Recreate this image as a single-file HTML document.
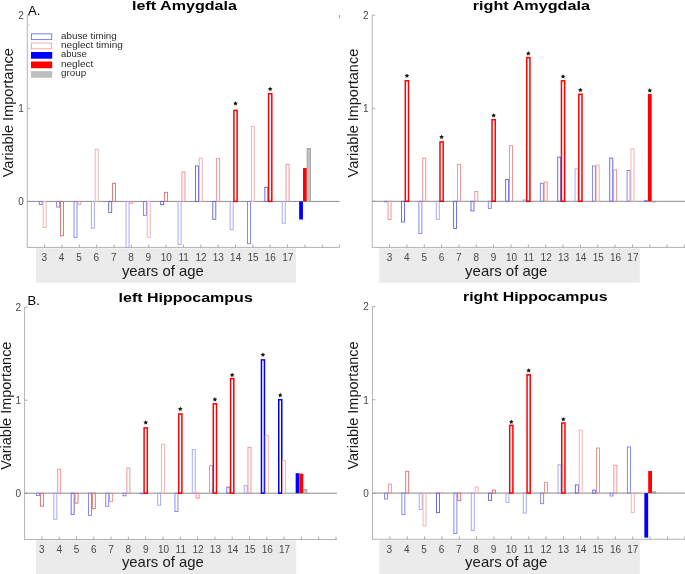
<!DOCTYPE html>
<html><head><meta charset="utf-8"><style>
html,body{margin:0;padding:0;background:#fff;}
body{width:685px;height:574px;overflow:hidden;}
svg{display:block;will-change:transform;font-family:"Liberation Sans",sans-serif;}
.tl{font-size:10.0px;fill:#474747;}
.ti{font-size:13px;font-weight:bold;fill:#000;}
.xl{font-size:14.4px;fill:#1a1a1a;}
.yl{font-size:14.3px;fill:#1a1a1a;}
.lg{font-size:9.4px;fill:#2a2a2a;}
.pl{font-size:13px;fill:#000;}
.star{font-size:10px;fill:#111;text-anchor:middle;}
</style></head><body>
<svg width="685" height="574" viewBox="0 0 685 574">
<rect width="685" height="574" fill="#fff"/>
<rect x="35.9" y="248.3" width="260.20" height="34.40" fill="#ebebeb"/>
<text x="44.30" y="260.80" class="tl" text-anchor="middle">3</text>
<text x="61.65" y="260.80" class="tl" text-anchor="middle">4</text>
<text x="79.00" y="260.80" class="tl" text-anchor="middle">5</text>
<text x="96.35" y="260.80" class="tl" text-anchor="middle">6</text>
<text x="113.70" y="260.80" class="tl" text-anchor="middle">7</text>
<text x="131.05" y="260.80" class="tl" text-anchor="middle">8</text>
<text x="148.40" y="260.80" class="tl" text-anchor="middle">9</text>
<text x="166.25" y="260.80" class="tl" text-anchor="middle">10</text>
<text x="183.60" y="260.80" class="tl" text-anchor="middle">11</text>
<text x="200.95" y="260.80" class="tl" text-anchor="middle">12</text>
<text x="218.30" y="260.80" class="tl" text-anchor="middle">13</text>
<text x="235.65" y="260.80" class="tl" text-anchor="middle">14</text>
<text x="253.00" y="260.80" class="tl" text-anchor="middle">15</text>
<text x="270.35" y="260.80" class="tl" text-anchor="middle">16</text>
<text x="287.70" y="260.80" class="tl" text-anchor="middle">17</text>
<text x="121.90" y="275.8" class="xl" textLength="81.90" lengthAdjust="spacingAndGlyphs">years of age</text>
<rect x="379.3" y="248.3" width="260.50" height="34.40" fill="#ebebeb"/>
<text x="389.50" y="260.80" class="tl" text-anchor="middle">3</text>
<text x="406.85" y="260.80" class="tl" text-anchor="middle">4</text>
<text x="424.20" y="260.80" class="tl" text-anchor="middle">5</text>
<text x="441.55" y="260.80" class="tl" text-anchor="middle">6</text>
<text x="458.90" y="260.80" class="tl" text-anchor="middle">7</text>
<text x="476.25" y="260.80" class="tl" text-anchor="middle">8</text>
<text x="493.60" y="260.80" class="tl" text-anchor="middle">9</text>
<text x="511.45" y="260.80" class="tl" text-anchor="middle">10</text>
<text x="528.80" y="260.80" class="tl" text-anchor="middle">11</text>
<text x="546.15" y="260.80" class="tl" text-anchor="middle">12</text>
<text x="563.50" y="260.80" class="tl" text-anchor="middle">13</text>
<text x="580.85" y="260.80" class="tl" text-anchor="middle">14</text>
<text x="598.20" y="260.80" class="tl" text-anchor="middle">15</text>
<text x="615.55" y="260.80" class="tl" text-anchor="middle">16</text>
<text x="632.90" y="260.80" class="tl" text-anchor="middle">17</text>
<text x="465.10" y="275.8" class="xl" textLength="82.30" lengthAdjust="spacingAndGlyphs">years of age</text>
<rect x="35.9" y="540.3" width="260.30" height="33.70" fill="#ebebeb"/>
<text x="41.90" y="552.80" class="tl" text-anchor="middle">3</text>
<text x="59.20" y="552.80" class="tl" text-anchor="middle">4</text>
<text x="76.50" y="552.80" class="tl" text-anchor="middle">5</text>
<text x="93.80" y="552.80" class="tl" text-anchor="middle">6</text>
<text x="111.10" y="552.80" class="tl" text-anchor="middle">7</text>
<text x="128.40" y="552.80" class="tl" text-anchor="middle">8</text>
<text x="145.70" y="552.80" class="tl" text-anchor="middle">9</text>
<text x="163.50" y="552.80" class="tl" text-anchor="middle">10</text>
<text x="180.80" y="552.80" class="tl" text-anchor="middle">11</text>
<text x="198.10" y="552.80" class="tl" text-anchor="middle">12</text>
<text x="215.40" y="552.80" class="tl" text-anchor="middle">13</text>
<text x="232.70" y="552.80" class="tl" text-anchor="middle">14</text>
<text x="250.00" y="552.80" class="tl" text-anchor="middle">15</text>
<text x="267.30" y="552.80" class="tl" text-anchor="middle">16</text>
<text x="284.60" y="552.80" class="tl" text-anchor="middle">17</text>
<text x="121.90" y="566.6" class="xl" textLength="81.90" lengthAdjust="spacingAndGlyphs">years of age</text>
<rect x="379.3" y="540.3" width="260.50" height="33.70" fill="#ebebeb"/>
<text x="389.40" y="552.80" class="tl" text-anchor="middle">3</text>
<text x="406.75" y="552.80" class="tl" text-anchor="middle">4</text>
<text x="424.10" y="552.80" class="tl" text-anchor="middle">5</text>
<text x="441.45" y="552.80" class="tl" text-anchor="middle">6</text>
<text x="458.80" y="552.80" class="tl" text-anchor="middle">7</text>
<text x="476.15" y="552.80" class="tl" text-anchor="middle">8</text>
<text x="493.50" y="552.80" class="tl" text-anchor="middle">9</text>
<text x="511.35" y="552.80" class="tl" text-anchor="middle">10</text>
<text x="528.70" y="552.80" class="tl" text-anchor="middle">11</text>
<text x="546.05" y="552.80" class="tl" text-anchor="middle">12</text>
<text x="563.40" y="552.80" class="tl" text-anchor="middle">13</text>
<text x="580.75" y="552.80" class="tl" text-anchor="middle">14</text>
<text x="598.10" y="552.80" class="tl" text-anchor="middle">15</text>
<text x="615.45" y="552.80" class="tl" text-anchor="middle">16</text>
<text x="632.80" y="552.80" class="tl" text-anchor="middle">17</text>
<text x="465.10" y="566.6" class="xl" textLength="82.30" lengthAdjust="spacingAndGlyphs">years of age</text>
<line x1="27.3" y1="15.3" x2="27.3" y2="247.4" stroke="#b4b4b4" stroke-width="1"/>
<line x1="26.8" y1="247.4" x2="339.5" y2="247.4" stroke="#b4b4b4" stroke-width="1"/>
<line x1="44.65" y1="247.4" x2="44.65" y2="244.4" stroke="#9a9a9a" stroke-width="0.8"/>
<line x1="62.00" y1="247.4" x2="62.00" y2="244.4" stroke="#9a9a9a" stroke-width="0.8"/>
<line x1="79.35" y1="247.4" x2="79.35" y2="244.4" stroke="#9a9a9a" stroke-width="0.8"/>
<line x1="96.70" y1="247.4" x2="96.70" y2="244.4" stroke="#9a9a9a" stroke-width="0.8"/>
<line x1="114.05" y1="247.4" x2="114.05" y2="244.4" stroke="#9a9a9a" stroke-width="0.8"/>
<line x1="131.40" y1="247.4" x2="131.40" y2="244.4" stroke="#9a9a9a" stroke-width="0.8"/>
<line x1="148.75" y1="247.4" x2="148.75" y2="244.4" stroke="#9a9a9a" stroke-width="0.8"/>
<line x1="166.10" y1="247.4" x2="166.10" y2="244.4" stroke="#9a9a9a" stroke-width="0.8"/>
<line x1="183.45" y1="247.4" x2="183.45" y2="244.4" stroke="#9a9a9a" stroke-width="0.8"/>
<line x1="200.80" y1="247.4" x2="200.80" y2="244.4" stroke="#9a9a9a" stroke-width="0.8"/>
<line x1="218.15" y1="247.4" x2="218.15" y2="244.4" stroke="#9a9a9a" stroke-width="0.8"/>
<line x1="235.50" y1="247.4" x2="235.50" y2="244.4" stroke="#9a9a9a" stroke-width="0.8"/>
<line x1="252.85" y1="247.4" x2="252.85" y2="244.4" stroke="#9a9a9a" stroke-width="0.8"/>
<line x1="270.20" y1="247.4" x2="270.20" y2="244.4" stroke="#9a9a9a" stroke-width="0.8"/>
<line x1="287.55" y1="247.4" x2="287.55" y2="244.4" stroke="#9a9a9a" stroke-width="0.8"/>
<line x1="304.90" y1="247.4" x2="304.90" y2="244.4" stroke="#9a9a9a" stroke-width="0.8"/>
<line x1="322.25" y1="247.4" x2="322.25" y2="244.4" stroke="#9a9a9a" stroke-width="0.8"/>
<line x1="339.60" y1="247.4" x2="339.60" y2="244.4" stroke="#9a9a9a" stroke-width="0.8"/>
<line x1="27.3" y1="201.40" x2="30.3" y2="201.40" stroke="#9a9a9a" stroke-width="0.8"/>
<line x1="27.3" y1="108.35" x2="30.3" y2="108.35" stroke="#9a9a9a" stroke-width="0.8"/>
<line x1="27.3" y1="15.30" x2="30.3" y2="15.30" stroke="#9a9a9a" stroke-width="0.8"/>
<line x1="27.3" y1="201.4" x2="339.5" y2="201.4" stroke="#8c8c8c" stroke-width="1"/>
<rect x="39.30" y="201.40" width="3.00" height="3.20" fill="none" stroke="#7c7cef" stroke-width="0.9" stroke-opacity="1"/>
<rect x="43.15" y="201.40" width="3.00" height="26.10" fill="none" stroke="#f2acac" stroke-width="0.9" stroke-opacity="1"/>
<rect x="56.65" y="201.40" width="3.00" height="5.70" fill="none" stroke="#7c7cef" stroke-width="0.9" stroke-opacity="1"/>
<rect x="60.50" y="201.40" width="3.00" height="34.40" fill="none" stroke="#e06a6a" stroke-width="0.9" stroke-opacity="1"/>
<rect x="74.00" y="201.40" width="3.00" height="35.90" fill="none" stroke="#7c7cef" stroke-width="0.9" stroke-opacity="1"/>
<rect x="77.85" y="201.40" width="3.00" height="2.80" fill="none" stroke="#ec8c8c" stroke-width="0.9" stroke-opacity="1"/>
<rect x="91.35" y="201.40" width="3.00" height="26.70" fill="none" stroke="#a0a0f2" stroke-width="0.9" stroke-opacity="1"/>
<rect x="95.20" y="149.20" width="3.00" height="52.20" fill="none" stroke="#f2acac" stroke-width="0.9" stroke-opacity="1"/>
<rect x="108.70" y="201.40" width="3.00" height="11.00" fill="none" stroke="#5e5eeb" stroke-width="0.9" stroke-opacity="1"/>
<rect x="112.55" y="183.30" width="3.00" height="18.10" fill="none" stroke="#e06a6a" stroke-width="0.9" stroke-opacity="1"/>
<rect x="126.05" y="201.40" width="3.00" height="46.10" fill="none" stroke="#a0a0f2" stroke-width="0.9" stroke-opacity="1"/>
<rect x="129.90" y="201.40" width="3.00" height="1.80" fill="none" stroke="#ec8c8c" stroke-width="0.9" stroke-opacity="1"/>
<rect x="143.40" y="201.40" width="3.00" height="13.90" fill="none" stroke="#7c7cef" stroke-width="0.9" stroke-opacity="1"/>
<rect x="147.25" y="201.40" width="3.00" height="35.90" fill="none" stroke="#f2acac" stroke-width="0.9" stroke-opacity="1"/>
<rect x="160.75" y="201.40" width="3.00" height="3.20" fill="none" stroke="#5e5eeb" stroke-width="0.9" stroke-opacity="1"/>
<rect x="164.60" y="192.30" width="3.00" height="9.10" fill="none" stroke="#e06a6a" stroke-width="0.9" stroke-opacity="1"/>
<rect x="178.10" y="201.40" width="3.00" height="43.00" fill="none" stroke="#a0a0f2" stroke-width="0.9" stroke-opacity="1"/>
<rect x="181.95" y="172.00" width="3.00" height="29.40" fill="none" stroke="#ec8c8c" stroke-width="0.9" stroke-opacity="1"/>
<rect x="195.45" y="165.90" width="3.00" height="35.50" fill="none" stroke="#5e5eeb" stroke-width="0.9" stroke-opacity="1"/>
<rect x="199.30" y="158.20" width="3.00" height="43.20" fill="none" stroke="#f2acac" stroke-width="0.9" stroke-opacity="1"/>
<rect x="212.80" y="201.40" width="3.00" height="17.90" fill="none" stroke="#5e5eeb" stroke-width="0.9" stroke-opacity="1"/>
<rect x="216.65" y="158.60" width="3.00" height="42.80" fill="none" stroke="#ec8c8c" stroke-width="0.9" stroke-opacity="1"/>
<rect x="230.15" y="201.40" width="3.00" height="28.30" fill="none" stroke="#a0a0f2" stroke-width="0.9" stroke-opacity="1"/>
<rect x="233.90" y="110.40" width="3.20" height="91.00" fill="none" stroke="#ff0000" stroke-width="1.5" stroke-opacity="1"/>
<polygon points="235.50,101.10 236.23,102.49 237.78,102.76 236.69,103.89 236.91,105.44 235.50,104.75 234.09,105.44 234.31,103.89 233.22,102.76 234.77,102.49" fill="#1a1a1a"/>
<rect x="247.50" y="201.40" width="3.00" height="42.30" fill="none" stroke="#7c7cef" stroke-width="0.9" stroke-opacity="1"/>
<rect x="251.35" y="126.30" width="3.00" height="75.10" fill="none" stroke="#f2acac" stroke-width="0.9" stroke-opacity="1"/>
<rect x="264.85" y="187.30" width="3.00" height="14.10" fill="none" stroke="#5e5eeb" stroke-width="0.9" stroke-opacity="1"/>
<rect x="268.60" y="93.70" width="3.20" height="107.70" fill="none" stroke="#ff0000" stroke-width="1.5" stroke-opacity="1"/>
<polygon points="270.20,86.70 270.93,88.09 272.48,88.36 271.39,89.49 271.61,91.04 270.20,90.35 268.79,91.04 269.01,89.49 267.92,88.36 269.47,88.09" fill="#1a1a1a"/>
<rect x="282.20" y="201.40" width="3.00" height="21.80" fill="none" stroke="#a0a0f2" stroke-width="0.9" stroke-opacity="1"/>
<rect x="286.05" y="164.30" width="3.00" height="37.10" fill="none" stroke="#ec8c8c" stroke-width="0.9" stroke-opacity="1"/>
<rect x="299.15" y="201.40" width="3.80" height="18.10" fill="#0000ff" stroke="none" stroke-width="0" stroke-opacity="1"/>
<rect x="303.00" y="168.00" width="3.80" height="33.40" fill="#ff0000" stroke="none" stroke-width="0" stroke-opacity="1"/>
<rect x="307.15" y="148.60" width="3.20" height="52.80" fill="#c4c4c4" stroke="#9a9a9a" stroke-width="0.9" stroke-opacity="1"/>
<text x="23.70" y="112.35" class="tl" text-anchor="end">1</text>
<text x="23.70" y="19.30" class="tl" text-anchor="end">2</text>
<text x="23.70" y="205.40" class="tl" text-anchor="end">0</text>
<text x="132.00" y="9.80" class="ti" textLength="105.00" lengthAdjust="spacingAndGlyphs">left Amygdala</text>
<line x1="372.2" y1="15.2" x2="372.2" y2="247.4" stroke="#b4b4b4" stroke-width="1"/>
<line x1="371.7" y1="247.4" x2="685" y2="247.4" stroke="#b4b4b4" stroke-width="1"/>
<line x1="389.55" y1="247.4" x2="389.55" y2="244.4" stroke="#9a9a9a" stroke-width="0.8"/>
<line x1="406.90" y1="247.4" x2="406.90" y2="244.4" stroke="#9a9a9a" stroke-width="0.8"/>
<line x1="424.25" y1="247.4" x2="424.25" y2="244.4" stroke="#9a9a9a" stroke-width="0.8"/>
<line x1="441.60" y1="247.4" x2="441.60" y2="244.4" stroke="#9a9a9a" stroke-width="0.8"/>
<line x1="458.95" y1="247.4" x2="458.95" y2="244.4" stroke="#9a9a9a" stroke-width="0.8"/>
<line x1="476.30" y1="247.4" x2="476.30" y2="244.4" stroke="#9a9a9a" stroke-width="0.8"/>
<line x1="493.65" y1="247.4" x2="493.65" y2="244.4" stroke="#9a9a9a" stroke-width="0.8"/>
<line x1="511.00" y1="247.4" x2="511.00" y2="244.4" stroke="#9a9a9a" stroke-width="0.8"/>
<line x1="528.35" y1="247.4" x2="528.35" y2="244.4" stroke="#9a9a9a" stroke-width="0.8"/>
<line x1="545.70" y1="247.4" x2="545.70" y2="244.4" stroke="#9a9a9a" stroke-width="0.8"/>
<line x1="563.05" y1="247.4" x2="563.05" y2="244.4" stroke="#9a9a9a" stroke-width="0.8"/>
<line x1="580.40" y1="247.4" x2="580.40" y2="244.4" stroke="#9a9a9a" stroke-width="0.8"/>
<line x1="597.75" y1="247.4" x2="597.75" y2="244.4" stroke="#9a9a9a" stroke-width="0.8"/>
<line x1="615.10" y1="247.4" x2="615.10" y2="244.4" stroke="#9a9a9a" stroke-width="0.8"/>
<line x1="632.45" y1="247.4" x2="632.45" y2="244.4" stroke="#9a9a9a" stroke-width="0.8"/>
<line x1="649.80" y1="247.4" x2="649.80" y2="244.4" stroke="#9a9a9a" stroke-width="0.8"/>
<line x1="667.15" y1="247.4" x2="667.15" y2="244.4" stroke="#9a9a9a" stroke-width="0.8"/>
<line x1="684.50" y1="247.4" x2="684.50" y2="244.4" stroke="#9a9a9a" stroke-width="0.8"/>
<line x1="372.2" y1="201.30" x2="375.2" y2="201.30" stroke="#9a9a9a" stroke-width="0.8"/>
<line x1="372.2" y1="108.25" x2="375.2" y2="108.25" stroke="#9a9a9a" stroke-width="0.8"/>
<line x1="372.2" y1="15.20" x2="375.2" y2="15.20" stroke="#9a9a9a" stroke-width="0.8"/>
<line x1="372.2" y1="201.3" x2="685" y2="201.3" stroke="#8c8c8c" stroke-width="1"/>
<rect x="384.20" y="201.30" width="3.00" height="0.50" fill="none" stroke="#7c7cef" stroke-width="0.9" stroke-opacity="1"/>
<rect x="388.05" y="201.30" width="3.00" height="18.20" fill="none" stroke="#ec8c8c" stroke-width="0.9" stroke-opacity="1"/>
<rect x="401.55" y="201.30" width="3.00" height="20.70" fill="none" stroke="#5e5eeb" stroke-width="0.9" stroke-opacity="1"/>
<rect x="405.30" y="80.80" width="3.20" height="120.50" fill="none" stroke="#ff0000" stroke-width="1.5" stroke-opacity="1"/>
<polygon points="406.90,73.40 407.63,74.79 409.18,75.06 408.09,76.19 408.31,77.74 406.90,77.05 405.49,77.74 405.71,76.19 404.62,75.06 406.17,74.79" fill="#1a1a1a"/>
<rect x="418.90" y="201.30" width="3.00" height="32.20" fill="none" stroke="#7c7cef" stroke-width="0.9" stroke-opacity="1"/>
<rect x="422.75" y="158.10" width="3.00" height="43.20" fill="none" stroke="#ec8c8c" stroke-width="0.9" stroke-opacity="1"/>
<rect x="436.25" y="201.30" width="3.00" height="18.00" fill="none" stroke="#a0a0f2" stroke-width="0.9" stroke-opacity="1"/>
<rect x="440.00" y="141.90" width="3.20" height="59.40" fill="none" stroke="#ff0000" stroke-width="1.5" stroke-opacity="1"/>
<polygon points="441.60,134.70 442.33,136.09 443.88,136.36 442.79,137.49 443.01,139.04 441.60,138.35 440.19,139.04 440.41,137.49 439.32,136.36 440.87,136.09" fill="#1a1a1a"/>
<rect x="453.60" y="201.30" width="3.00" height="27.10" fill="none" stroke="#5e5eeb" stroke-width="0.9" stroke-opacity="1"/>
<rect x="457.45" y="164.40" width="3.00" height="36.90" fill="none" stroke="#ec8c8c" stroke-width="0.9" stroke-opacity="1"/>
<rect x="470.95" y="201.30" width="3.00" height="9.60" fill="none" stroke="#5e5eeb" stroke-width="0.9" stroke-opacity="1"/>
<rect x="474.80" y="191.50" width="3.00" height="9.80" fill="none" stroke="#ec8c8c" stroke-width="0.9" stroke-opacity="1"/>
<rect x="488.30" y="201.30" width="3.00" height="7.10" fill="none" stroke="#7c7cef" stroke-width="0.9" stroke-opacity="1"/>
<rect x="492.05" y="119.70" width="3.20" height="81.60" fill="none" stroke="#ff0000" stroke-width="1.5" stroke-opacity="1"/>
<polygon points="493.65,113.20 494.38,114.59 495.93,114.86 494.84,115.99 495.06,117.54 493.65,116.85 492.24,117.54 492.46,115.99 491.37,114.86 492.92,114.59" fill="#1a1a1a"/>
<rect x="505.65" y="179.50" width="3.00" height="21.80" fill="none" stroke="#5e5eeb" stroke-width="0.9" stroke-opacity="1"/>
<rect x="509.50" y="145.70" width="3.00" height="55.60" fill="none" stroke="#ec8c8c" stroke-width="0.9" stroke-opacity="1"/>
<rect x="523.00" y="199.90" width="3.00" height="1.40" fill="none" stroke="#a0a0f2" stroke-width="0.9" stroke-opacity="1"/>
<rect x="526.75" y="57.60" width="3.20" height="143.70" fill="none" stroke="#ff0000" stroke-width="1.5" stroke-opacity="1"/>
<polygon points="528.35,51.10 529.08,52.49 530.63,52.76 529.54,53.89 529.76,55.44 528.35,54.75 526.94,55.44 527.16,53.89 526.07,52.76 527.62,52.49" fill="#1a1a1a"/>
<rect x="540.35" y="183.30" width="3.00" height="18.00" fill="none" stroke="#7c7cef" stroke-width="0.9" stroke-opacity="1"/>
<rect x="544.20" y="182.00" width="3.00" height="19.30" fill="none" stroke="#ec8c8c" stroke-width="0.9" stroke-opacity="1"/>
<rect x="557.70" y="157.20" width="3.00" height="44.10" fill="none" stroke="#5e5eeb" stroke-width="0.9" stroke-opacity="1"/>
<rect x="561.45" y="80.80" width="3.20" height="120.50" fill="none" stroke="#ff0000" stroke-width="1.5" stroke-opacity="1"/>
<polygon points="563.05,74.20 563.78,75.59 565.33,75.86 564.24,76.99 564.46,78.54 563.05,77.85 561.64,78.54 561.86,76.99 560.77,75.86 562.32,75.59" fill="#1a1a1a"/>
<rect x="575.05" y="168.80" width="3.00" height="32.50" fill="none" stroke="#a0a0f2" stroke-width="0.9" stroke-opacity="1"/>
<rect x="578.80" y="94.30" width="3.20" height="107.00" fill="none" stroke="#ff0000" stroke-width="1.5" stroke-opacity="1"/>
<polygon points="580.40,87.70 581.13,89.09 582.68,89.36 581.59,90.49 581.81,92.04 580.40,91.35 578.99,92.04 579.21,90.49 578.12,89.36 579.67,89.09" fill="#1a1a1a"/>
<rect x="592.40" y="166.00" width="3.00" height="35.30" fill="none" stroke="#7c7cef" stroke-width="0.9" stroke-opacity="1"/>
<rect x="596.25" y="165.00" width="3.00" height="36.30" fill="none" stroke="#f2acac" stroke-width="0.9" stroke-opacity="1"/>
<rect x="609.75" y="158.10" width="3.00" height="43.20" fill="none" stroke="#5e5eeb" stroke-width="0.9" stroke-opacity="1"/>
<rect x="613.60" y="169.80" width="3.00" height="31.50" fill="none" stroke="#ec8c8c" stroke-width="0.9" stroke-opacity="1"/>
<rect x="627.10" y="170.40" width="3.00" height="30.90" fill="none" stroke="#7c7cef" stroke-width="0.9" stroke-opacity="1"/>
<rect x="630.95" y="148.80" width="3.00" height="52.50" fill="none" stroke="#f2acac" stroke-width="0.9" stroke-opacity="1"/>
<rect x="644.05" y="200.60" width="3.80" height="0.70" fill="#0000ff" stroke="none" stroke-width="0" stroke-opacity="1"/>
<rect x="647.90" y="94.00" width="3.80" height="107.30" fill="#ff0000" stroke="none" stroke-width="0" stroke-opacity="1"/>
<rect x="652.05" y="201.30" width="3.20" height="0.70" fill="#c4c4c4" stroke="#9a9a9a" stroke-width="0.9" stroke-opacity="1"/>
<polygon points="649.80,88.10 650.53,89.49 652.08,89.76 650.99,90.89 651.21,92.44 649.80,91.75 648.39,92.44 648.61,90.89 647.52,89.76 649.07,89.49" fill="#1a1a1a"/>
<text x="368.60" y="112.25" class="tl" text-anchor="end">1</text>
<text x="368.60" y="19.20" class="tl" text-anchor="end">2</text>
<text x="472.80" y="9.80" class="ti" textLength="117.20" lengthAdjust="spacingAndGlyphs">right Amygdala</text>
<line x1="24.6" y1="307.2" x2="24.6" y2="539.5" stroke="#b4b4b4" stroke-width="1"/>
<line x1="24.1" y1="539.5" x2="337" y2="539.5" stroke="#b4b4b4" stroke-width="1"/>
<line x1="41.90" y1="539.5" x2="41.90" y2="536.5" stroke="#9a9a9a" stroke-width="0.8"/>
<line x1="59.20" y1="539.5" x2="59.20" y2="536.5" stroke="#9a9a9a" stroke-width="0.8"/>
<line x1="76.50" y1="539.5" x2="76.50" y2="536.5" stroke="#9a9a9a" stroke-width="0.8"/>
<line x1="93.80" y1="539.5" x2="93.80" y2="536.5" stroke="#9a9a9a" stroke-width="0.8"/>
<line x1="111.10" y1="539.5" x2="111.10" y2="536.5" stroke="#9a9a9a" stroke-width="0.8"/>
<line x1="128.40" y1="539.5" x2="128.40" y2="536.5" stroke="#9a9a9a" stroke-width="0.8"/>
<line x1="145.70" y1="539.5" x2="145.70" y2="536.5" stroke="#9a9a9a" stroke-width="0.8"/>
<line x1="163.00" y1="539.5" x2="163.00" y2="536.5" stroke="#9a9a9a" stroke-width="0.8"/>
<line x1="180.30" y1="539.5" x2="180.30" y2="536.5" stroke="#9a9a9a" stroke-width="0.8"/>
<line x1="197.60" y1="539.5" x2="197.60" y2="536.5" stroke="#9a9a9a" stroke-width="0.8"/>
<line x1="214.90" y1="539.5" x2="214.90" y2="536.5" stroke="#9a9a9a" stroke-width="0.8"/>
<line x1="232.20" y1="539.5" x2="232.20" y2="536.5" stroke="#9a9a9a" stroke-width="0.8"/>
<line x1="249.50" y1="539.5" x2="249.50" y2="536.5" stroke="#9a9a9a" stroke-width="0.8"/>
<line x1="266.80" y1="539.5" x2="266.80" y2="536.5" stroke="#9a9a9a" stroke-width="0.8"/>
<line x1="284.10" y1="539.5" x2="284.10" y2="536.5" stroke="#9a9a9a" stroke-width="0.8"/>
<line x1="301.40" y1="539.5" x2="301.40" y2="536.5" stroke="#9a9a9a" stroke-width="0.8"/>
<line x1="318.70" y1="539.5" x2="318.70" y2="536.5" stroke="#9a9a9a" stroke-width="0.8"/>
<line x1="336.00" y1="539.5" x2="336.00" y2="536.5" stroke="#9a9a9a" stroke-width="0.8"/>
<line x1="24.6" y1="493.20" x2="27.6" y2="493.20" stroke="#9a9a9a" stroke-width="0.8"/>
<line x1="24.6" y1="400.20" x2="27.6" y2="400.20" stroke="#9a9a9a" stroke-width="0.8"/>
<line x1="24.6" y1="307.20" x2="27.6" y2="307.20" stroke="#9a9a9a" stroke-width="0.8"/>
<line x1="24.6" y1="493.2" x2="337" y2="493.2" stroke="#8c8c8c" stroke-width="1"/>
<rect x="36.55" y="493.20" width="3.00" height="2.30" fill="none" stroke="#7c7cef" stroke-width="0.9" stroke-opacity="1"/>
<rect x="40.40" y="493.20" width="3.00" height="13.00" fill="none" stroke="#e06a6a" stroke-width="0.9" stroke-opacity="1"/>
<rect x="53.85" y="493.20" width="3.00" height="26.10" fill="none" stroke="#a0a0f2" stroke-width="0.9" stroke-opacity="1"/>
<rect x="57.70" y="469.20" width="3.00" height="24.00" fill="none" stroke="#ec8c8c" stroke-width="0.9" stroke-opacity="1"/>
<rect x="71.15" y="493.20" width="3.00" height="21.20" fill="none" stroke="#5e5eeb" stroke-width="0.9" stroke-opacity="1"/>
<rect x="75.00" y="493.20" width="3.00" height="9.90" fill="none" stroke="#e06a6a" stroke-width="0.9" stroke-opacity="1"/>
<rect x="88.45" y="493.20" width="3.00" height="22.10" fill="none" stroke="#7c7cef" stroke-width="0.9" stroke-opacity="1"/>
<rect x="92.30" y="493.20" width="3.00" height="15.50" fill="none" stroke="#e06a6a" stroke-width="0.9" stroke-opacity="1"/>
<rect x="105.75" y="493.20" width="3.00" height="13.10" fill="none" stroke="#7c7cef" stroke-width="0.9" stroke-opacity="1"/>
<rect x="109.60" y="493.20" width="3.00" height="8.20" fill="none" stroke="#ec8c8c" stroke-width="0.9" stroke-opacity="1"/>
<rect x="123.05" y="493.20" width="3.00" height="2.60" fill="none" stroke="#7c7cef" stroke-width="0.9" stroke-opacity="1"/>
<rect x="126.90" y="468.00" width="3.00" height="25.20" fill="none" stroke="#ec8c8c" stroke-width="0.9" stroke-opacity="1"/>
<rect x="140.35" y="493.20" width="3.00" height="0.60" fill="none" stroke="#7c7cef" stroke-width="0.9" stroke-opacity="1"/>
<rect x="144.10" y="427.90" width="3.20" height="65.30" fill="none" stroke="#ff0000" stroke-width="1.5" stroke-opacity="1"/>
<polygon points="145.70,420.20 146.43,421.59 147.98,421.86 146.89,422.99 147.11,424.54 145.70,423.85 144.29,424.54 144.51,422.99 143.42,421.86 144.97,421.59" fill="#1a1a1a"/>
<rect x="157.65" y="493.20" width="3.00" height="12.00" fill="none" stroke="#a0a0f2" stroke-width="0.9" stroke-opacity="1"/>
<rect x="161.50" y="444.20" width="3.00" height="49.00" fill="none" stroke="#f2acac" stroke-width="0.9" stroke-opacity="1"/>
<rect x="174.95" y="493.20" width="3.00" height="18.40" fill="none" stroke="#7c7cef" stroke-width="0.9" stroke-opacity="1"/>
<rect x="178.70" y="414.00" width="3.20" height="79.20" fill="none" stroke="#ff0000" stroke-width="1.5" stroke-opacity="1"/>
<polygon points="180.30,406.60 181.03,407.99 182.58,408.26 181.49,409.39 181.71,410.94 180.30,410.25 178.89,410.94 179.11,409.39 178.02,408.26 179.57,407.99" fill="#1a1a1a"/>
<rect x="192.25" y="449.70" width="3.00" height="43.50" fill="none" stroke="#a0a0f2" stroke-width="0.9" stroke-opacity="1"/>
<rect x="196.10" y="493.20" width="3.00" height="4.90" fill="none" stroke="#ec8c8c" stroke-width="0.9" stroke-opacity="1"/>
<rect x="209.55" y="465.40" width="3.00" height="27.80" fill="none" stroke="#a0a0f2" stroke-width="0.9" stroke-opacity="1"/>
<rect x="213.30" y="403.80" width="3.20" height="89.40" fill="none" stroke="#ff0000" stroke-width="1.5" stroke-opacity="1"/>
<polygon points="214.90,397.10 215.63,398.49 217.18,398.76 216.09,399.89 216.31,401.44 214.90,400.75 213.49,401.44 213.71,399.89 212.62,398.76 214.17,398.49" fill="#1a1a1a"/>
<rect x="226.85" y="487.10" width="3.00" height="6.10" fill="none" stroke="#5e5eeb" stroke-width="0.9" stroke-opacity="1"/>
<rect x="230.60" y="378.60" width="3.20" height="114.60" fill="none" stroke="#ff0000" stroke-width="1.5" stroke-opacity="1"/>
<polygon points="232.20,372.70 232.93,374.09 234.48,374.36 233.39,375.49 233.61,377.04 232.20,376.35 230.79,377.04 231.01,375.49 229.92,374.36 231.47,374.09" fill="#1a1a1a"/>
<rect x="244.15" y="485.70" width="3.00" height="7.50" fill="none" stroke="#a0a0f2" stroke-width="0.9" stroke-opacity="1"/>
<rect x="248.00" y="447.30" width="3.00" height="45.90" fill="none" stroke="#ec8c8c" stroke-width="0.9" stroke-opacity="1"/>
<rect x="261.45" y="359.90" width="3.00" height="133.30" fill="none" stroke="#0000ff" stroke-width="1.5" stroke-opacity="1"/>
<rect x="265.30" y="435.30" width="3.00" height="57.90" fill="none" stroke="#f2acac" stroke-width="0.9" stroke-opacity="1"/>
<polygon points="262.95,352.40 263.68,353.79 265.23,354.06 264.14,355.19 264.36,356.74 262.95,356.05 261.54,356.74 261.76,355.19 260.67,354.06 262.22,353.79" fill="#1a1a1a"/>
<rect x="278.75" y="399.70" width="3.00" height="93.50" fill="none" stroke="#0000ff" stroke-width="1.5" stroke-opacity="1"/>
<rect x="282.60" y="460.60" width="3.00" height="32.60" fill="none" stroke="#f2acac" stroke-width="0.9" stroke-opacity="1"/>
<polygon points="280.25,392.80 280.98,394.19 282.53,394.46 281.44,395.59 281.66,397.14 280.25,396.45 278.84,397.14 279.06,395.59 277.97,394.46 279.52,394.19" fill="#1a1a1a"/>
<rect x="295.65" y="473.20" width="3.80" height="20.00" fill="#0000ff" stroke="none" stroke-width="0" stroke-opacity="1"/>
<rect x="299.50" y="473.70" width="3.80" height="19.50" fill="#ff0000" stroke="none" stroke-width="0" stroke-opacity="1"/>
<rect x="303.65" y="489.60" width="3.20" height="3.60" fill="#c4c4c4" stroke="#9a9a9a" stroke-width="0.9" stroke-opacity="1"/>
<text x="21.00" y="404.20" class="tl" text-anchor="end">1</text>
<text x="21.00" y="311.20" class="tl" text-anchor="end">2</text>
<text x="21.00" y="497.20" class="tl" text-anchor="end">0</text>
<text x="118.60" y="301.50" class="ti" textLength="134.20" lengthAdjust="spacingAndGlyphs">left Hippocampus</text>
<line x1="372.5" y1="306.4" x2="372.5" y2="539.3" stroke="#b4b4b4" stroke-width="1"/>
<line x1="372.0" y1="539.3" x2="685" y2="539.3" stroke="#b4b4b4" stroke-width="1"/>
<line x1="389.85" y1="539.3" x2="389.85" y2="536.3" stroke="#9a9a9a" stroke-width="0.8"/>
<line x1="407.20" y1="539.3" x2="407.20" y2="536.3" stroke="#9a9a9a" stroke-width="0.8"/>
<line x1="424.55" y1="539.3" x2="424.55" y2="536.3" stroke="#9a9a9a" stroke-width="0.8"/>
<line x1="441.90" y1="539.3" x2="441.90" y2="536.3" stroke="#9a9a9a" stroke-width="0.8"/>
<line x1="459.25" y1="539.3" x2="459.25" y2="536.3" stroke="#9a9a9a" stroke-width="0.8"/>
<line x1="476.60" y1="539.3" x2="476.60" y2="536.3" stroke="#9a9a9a" stroke-width="0.8"/>
<line x1="493.95" y1="539.3" x2="493.95" y2="536.3" stroke="#9a9a9a" stroke-width="0.8"/>
<line x1="511.30" y1="539.3" x2="511.30" y2="536.3" stroke="#9a9a9a" stroke-width="0.8"/>
<line x1="528.65" y1="539.3" x2="528.65" y2="536.3" stroke="#9a9a9a" stroke-width="0.8"/>
<line x1="546.00" y1="539.3" x2="546.00" y2="536.3" stroke="#9a9a9a" stroke-width="0.8"/>
<line x1="563.35" y1="539.3" x2="563.35" y2="536.3" stroke="#9a9a9a" stroke-width="0.8"/>
<line x1="580.70" y1="539.3" x2="580.70" y2="536.3" stroke="#9a9a9a" stroke-width="0.8"/>
<line x1="598.05" y1="539.3" x2="598.05" y2="536.3" stroke="#9a9a9a" stroke-width="0.8"/>
<line x1="615.40" y1="539.3" x2="615.40" y2="536.3" stroke="#9a9a9a" stroke-width="0.8"/>
<line x1="632.75" y1="539.3" x2="632.75" y2="536.3" stroke="#9a9a9a" stroke-width="0.8"/>
<line x1="650.10" y1="539.3" x2="650.10" y2="536.3" stroke="#9a9a9a" stroke-width="0.8"/>
<line x1="667.45" y1="539.3" x2="667.45" y2="536.3" stroke="#9a9a9a" stroke-width="0.8"/>
<line x1="684.80" y1="539.3" x2="684.80" y2="536.3" stroke="#9a9a9a" stroke-width="0.8"/>
<line x1="372.5" y1="493.10" x2="375.5" y2="493.10" stroke="#9a9a9a" stroke-width="0.8"/>
<line x1="372.5" y1="399.75" x2="375.5" y2="399.75" stroke="#9a9a9a" stroke-width="0.8"/>
<line x1="372.5" y1="306.40" x2="375.5" y2="306.40" stroke="#9a9a9a" stroke-width="0.8"/>
<line x1="372.5" y1="493.1" x2="685" y2="493.1" stroke="#8c8c8c" stroke-width="1"/>
<rect x="384.50" y="493.10" width="3.00" height="5.90" fill="none" stroke="#7c7cef" stroke-width="0.9" stroke-opacity="1"/>
<rect x="388.35" y="484.10" width="3.00" height="9.00" fill="none" stroke="#ec8c8c" stroke-width="0.9" stroke-opacity="1"/>
<rect x="401.85" y="493.10" width="3.00" height="21.30" fill="none" stroke="#7c7cef" stroke-width="0.9" stroke-opacity="1"/>
<rect x="405.70" y="471.30" width="3.00" height="21.80" fill="none" stroke="#e06a6a" stroke-width="0.9" stroke-opacity="1"/>
<rect x="419.20" y="493.10" width="3.00" height="16.30" fill="none" stroke="#a0a0f2" stroke-width="0.9" stroke-opacity="1"/>
<rect x="423.05" y="493.10" width="3.00" height="32.70" fill="none" stroke="#f2acac" stroke-width="0.9" stroke-opacity="1"/>
<rect x="436.55" y="493.10" width="3.00" height="19.50" fill="none" stroke="#5e5eeb" stroke-width="0.9" stroke-opacity="1"/>
<rect x="440.40" y="492.40" width="3.00" height="0.70" fill="none" stroke="#f2acac" stroke-width="0.9" stroke-opacity="1"/>
<rect x="453.90" y="493.10" width="3.00" height="40.40" fill="none" stroke="#7c7cef" stroke-width="0.9" stroke-opacity="1"/>
<rect x="457.75" y="493.10" width="3.00" height="7.50" fill="none" stroke="#e06a6a" stroke-width="0.9" stroke-opacity="1"/>
<rect x="471.25" y="493.10" width="3.00" height="37.40" fill="none" stroke="#a0a0f2" stroke-width="0.9" stroke-opacity="1"/>
<rect x="475.10" y="487.00" width="3.00" height="6.10" fill="none" stroke="#f2acac" stroke-width="0.9" stroke-opacity="1"/>
<rect x="488.60" y="493.10" width="3.00" height="7.30" fill="none" stroke="#5e5eeb" stroke-width="0.9" stroke-opacity="1"/>
<rect x="492.45" y="490.10" width="3.00" height="3.00" fill="none" stroke="#e06a6a" stroke-width="0.9" stroke-opacity="1"/>
<rect x="505.95" y="493.10" width="3.00" height="9.30" fill="none" stroke="#a0a0f2" stroke-width="0.9" stroke-opacity="1"/>
<rect x="509.70" y="425.40" width="3.20" height="67.70" fill="none" stroke="#ff0000" stroke-width="1.5" stroke-opacity="1"/>
<polygon points="511.30,419.50 512.03,420.89 513.58,421.16 512.49,422.29 512.71,423.84 511.30,423.15 509.89,423.84 510.11,422.29 509.02,421.16 510.57,420.89" fill="#1a1a1a"/>
<rect x="523.30" y="493.10" width="3.00" height="20.00" fill="none" stroke="#a0a0f2" stroke-width="0.9" stroke-opacity="1"/>
<rect x="527.05" y="374.80" width="3.20" height="118.30" fill="none" stroke="#ff0000" stroke-width="1.5" stroke-opacity="1"/>
<polygon points="528.65,368.20 529.38,369.59 530.93,369.86 529.84,370.99 530.06,372.54 528.65,371.85 527.24,372.54 527.46,370.99 526.37,369.86 527.92,369.59" fill="#1a1a1a"/>
<rect x="540.65" y="493.10" width="3.00" height="10.60" fill="none" stroke="#7c7cef" stroke-width="0.9" stroke-opacity="1"/>
<rect x="544.50" y="482.30" width="3.00" height="10.80" fill="none" stroke="#ec8c8c" stroke-width="0.9" stroke-opacity="1"/>
<rect x="558.00" y="464.80" width="3.00" height="28.30" fill="none" stroke="#a0a0f2" stroke-width="0.9" stroke-opacity="1"/>
<rect x="561.75" y="423.00" width="3.20" height="70.10" fill="none" stroke="#ff0000" stroke-width="1.5" stroke-opacity="1"/>
<polygon points="563.35,416.90 564.08,418.29 565.63,418.56 564.54,419.69 564.76,421.24 563.35,420.55 561.94,421.24 562.16,419.69 561.07,418.56 562.62,418.29" fill="#1a1a1a"/>
<rect x="575.35" y="484.90" width="3.00" height="8.20" fill="none" stroke="#5e5eeb" stroke-width="0.9" stroke-opacity="1"/>
<rect x="579.20" y="430.10" width="3.00" height="63.00" fill="none" stroke="#f2acac" stroke-width="0.9" stroke-opacity="1"/>
<rect x="592.70" y="490.10" width="3.00" height="3.00" fill="none" stroke="#5e5eeb" stroke-width="0.9" stroke-opacity="1"/>
<rect x="596.55" y="448.00" width="3.00" height="45.10" fill="none" stroke="#ec8c8c" stroke-width="0.9" stroke-opacity="1"/>
<rect x="610.05" y="493.10" width="3.00" height="2.90" fill="none" stroke="#7c7cef" stroke-width="0.9" stroke-opacity="1"/>
<rect x="613.90" y="465.20" width="3.00" height="27.90" fill="none" stroke="#ec8c8c" stroke-width="0.9" stroke-opacity="1"/>
<rect x="627.40" y="447.00" width="3.00" height="46.10" fill="none" stroke="#7c7cef" stroke-width="0.9" stroke-opacity="1"/>
<rect x="631.25" y="493.10" width="3.00" height="19.30" fill="none" stroke="#f2acac" stroke-width="0.9" stroke-opacity="1"/>
<rect x="644.35" y="493.10" width="3.80" height="44.50" fill="#0000ff" stroke="none" stroke-width="0" stroke-opacity="1"/>
<rect x="648.20" y="471.00" width="3.80" height="22.10" fill="#ff0000" stroke="none" stroke-width="0" stroke-opacity="1"/>
<rect x="652.35" y="491.80" width="3.20" height="1.30" fill="#c4c4c4" stroke="#9a9a9a" stroke-width="0.9" stroke-opacity="1"/>
<text x="368.90" y="403.75" class="tl" text-anchor="end">1</text>
<text x="368.90" y="310.40" class="tl" text-anchor="end">2</text>
<text x="368.90" y="497.10" class="tl" text-anchor="end">0</text>
<text x="463.00" y="301.40" class="ti" textLength="144.60" lengthAdjust="spacingAndGlyphs">right Hippocampus</text>
<text transform="translate(13.1,177.3) rotate(-90)" class="yl" textLength="129.2" lengthAdjust="spacingAndGlyphs">Variable Importance</text>
<text transform="translate(357.6,177.4) rotate(-90)" class="yl" textLength="128.6" lengthAdjust="spacingAndGlyphs">Variable Importance</text>
<text transform="translate(10.8,469.8) rotate(-90)" class="yl" textLength="128.2" lengthAdjust="spacingAndGlyphs">Variable Importance</text>
<text transform="translate(358.0,469.6) rotate(-90)" class="yl" textLength="128.2" lengthAdjust="spacingAndGlyphs">Variable Importance</text>
<rect x="31.4" y="33.8" width="20.3" height="5.8" fill="#fff" stroke="#7070f0" stroke-width="0.9"/>
<text x="61.0" y="38.60" class="lg" textLength="55.8" lengthAdjust="spacingAndGlyphs">abuse timing</text>
<rect x="31.4" y="43.0" width="20.3" height="5.8" fill="#fff" stroke="#f0a0a0" stroke-width="0.9"/>
<text x="61.0" y="47.80" class="lg" textLength="61.8" lengthAdjust="spacingAndGlyphs">neglect timing</text>
<rect x="31" y="52.0" width="21.2" height="6.7" fill="#0000ff"/>
<text x="61.0" y="57.30" class="lg" textLength="25.8" lengthAdjust="spacingAndGlyphs">abuse</text>
<rect x="31" y="61.5" width="21.2" height="6.7" fill="#ff0000"/>
<text x="61.0" y="66.80" class="lg" textLength="32.2" lengthAdjust="spacingAndGlyphs">neglect</text>
<rect x="31" y="71.1" width="21.2" height="6.7" fill="#bebebe"/>
<text x="61.0" y="76.40" class="lg" textLength="25.2" lengthAdjust="spacingAndGlyphs">group</text>
<line x1="339.4" y1="15" x2="339.4" y2="18.2" stroke="#9a9a9a" stroke-width="1"/>
<line x1="27.3" y1="25" x2="30" y2="25" stroke="#c8c8c8" stroke-width="0.8"/>
<text x="28.0" y="14.6" class="pl">A.</text>
<text x="27.6" y="304.5" class="pl">B.</text>
</svg>
</body></html>
